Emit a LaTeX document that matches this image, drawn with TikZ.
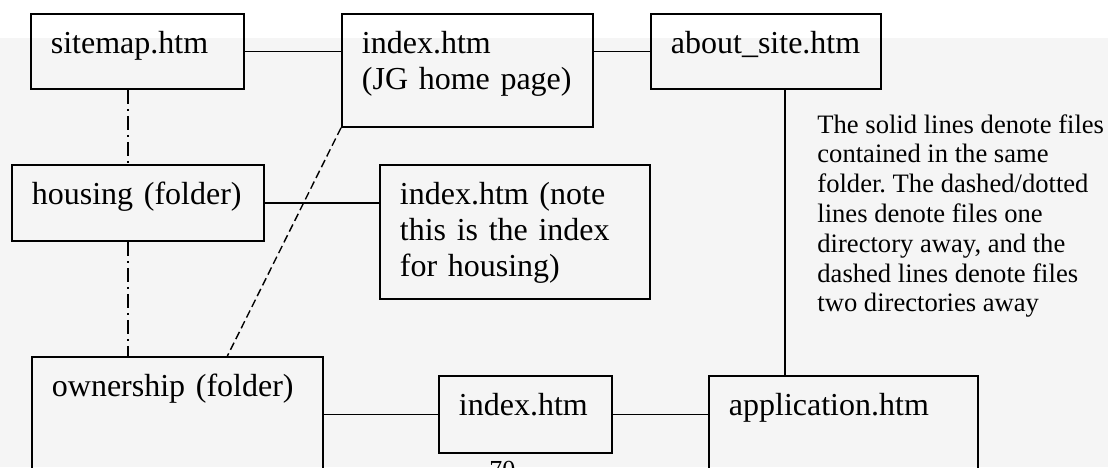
\documentclass[tikz,border=0pt]{standalone}
\usepackage{fontspec}
\setmainfont{Liberation Serif}
\usetikzlibrary{calc}
\frenchspacing

\tikzset{
  filebox/.style={draw, line width=0.9pt, anchor=north west, inner xsep=10pt, inner ysep=0pt,
    align=left, text height=20pt, font=\fontsize{16}{18}\selectfont},
  samedir/.style={line width=0.9pt},
  onedir/.style={line width=0.8pt, dash pattern=on 7pt off 2.5pt on 1pt off 2.5pt},
  twodir/.style={line width=0.7pt, dash pattern=on 4pt off 2pt},
}

\begin{document}
\begin{tikzpicture}[x=0.5pt,y=-0.5pt]
    % Page
    \useasboundingbox (0,0) rectangle (1108,467);
    \clip (0,0) rectangle (1108,467);
    \fill[black!4] (0,38) rectangle (1108,467);

    % Files and folders
    \node[filebox, text width=86.5pt, text depth=17.5pt] (sitemap) at (30,13) {sitemap.htm};
    \node[filebox, text width=105.5pt, text depth=36.5pt] (jghome) at (341,13) {index.htm\\(JG home page)};
    \node[filebox, text width=95pt, text depth=17.5pt] (about) at (650,13) {about\_site.htm};
    \node[filebox, text width=106pt, text depth=18pt] (housing) at (11,164) {housing (folder)};
    \node[filebox, text width=115pt, text depth=47pt] (housnote) at (379,164) {index.htm (note\\this is the index\\for housing)};
    \node[filebox, text width=125.5pt, text depth=60pt] (ownership) at (31,356) {ownership (folder)};
    \node[filebox, text width=66.5pt, text depth=18.5pt] (ownindex) at (438,375) {index.htm};
    \node[filebox, text width=114.5pt, text depth=60pt] (application) at (708,375) {application.htm};

    % Same folder
    \draw[samedir] (sitemap.east) -- (sitemap.east -| jghome.west);
    \draw[samedir] (about.west) -- (about.west -| jghome.east);
    \draw[samedir] (housing.east) -- (housing.east -| housnote.west);
    \draw[samedir] (ownindex.west) -- (ownindex.west -| ownership.east);
    \draw[samedir] (ownindex.east) -- (ownindex.east -| application.west);
    \draw[samedir] ([xshift=9.5pt]about.south) -- ([xshift=9.5pt]about.south |- application.north);

    % One directory away
    \draw[onedir] ([xshift=-4.75pt]sitemap.south) -- ([xshift=-4.75pt]sitemap.south |- housing.north);
    \draw[onedir] ([xshift=-5pt]housing.south) -- ([xshift=-5pt]housing.south |- ownership.north);

    % Two directories away
    \draw[twodir] (jghome.south west) -- ([xshift=25pt]ownership.north);

    % Legend
    \node[anchor=north west, align=left, inner sep=0pt, font=\fontsize{13.3}{14.9}\selectfont] (legend) at (817,114)
      {The solid lines denote files\\contained in the same\\folder. The dashed/dotted\\lines denote files one\\directory away, and the\\dashed lines denote files\\two directories away};

    % Page number
    \node[anchor=north west, inner sep=0pt, font=\fontsize{13}{15}\selectfont] (pagenum) at (489,461) {70};
\end{tikzpicture}
\end{document}
